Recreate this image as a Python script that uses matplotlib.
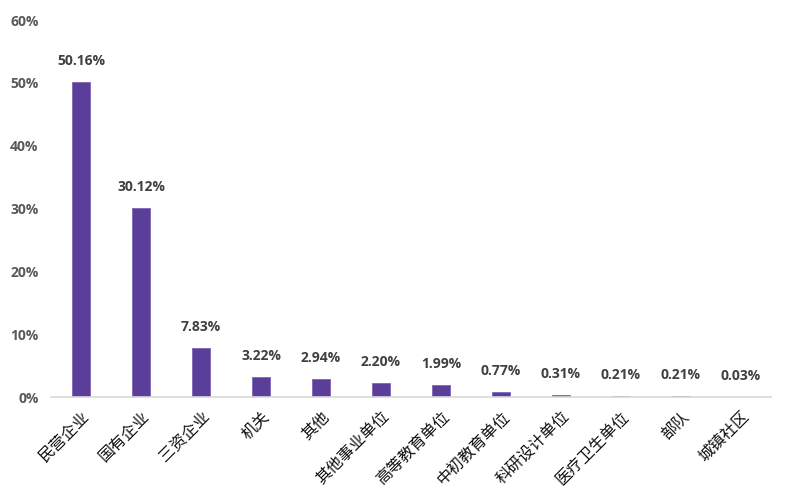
import matplotlib.pyplot as plt
from matplotlib.ticker import FuncFormatter

categories = ["民营企业", "国有企业", "三资企业", "机关", "其他", "其他事业单位",
              "高等教育单位", "中初教育单位", "科研设计单位", "医疗卫生单位", "部队", "城镇社区"]
shares = [50.16, 30.12, 7.83, 3.22, 2.94, 2.20, 1.99, 0.77, 0.31, 0.21, 0.21, 0.03]
yticks = [0, 10, 20, 30, 40, 50, 60]

plt.rcParams['font.family'] = ['Noto Sans CJK SC', 'DejaVu Sans']

fig = plt.figure(figsize=(7.92, 4.91), dpi=100)
ax = fig.add_axes([0.0644, 0.1914, 0.909, 0.7676])

x = list(range(len(categories)))
bars = ax.bar(x, shares, width=0.3, color="#5A3E99", edgecolor="#7B66B5", linewidth=0.6)

for xi, v in zip(x, shares):
    ax.annotate(f"{v:.2f}%", (xi, v), xytext=(0, 10), textcoords="offset points",
                ha="center", va="bottom", fontsize=10, fontweight="bold",
                color="#404040", family=["Open Sans", "DejaVu Sans"])

ax.set_xlim(-0.5, len(categories) - 0.5)
ax.set_ylim(0, 60)
ax.set_yticks(yticks)
ax.yaxis.set_major_formatter(FuncFormatter(lambda v, p: f"{v:.0f}%"))
for lab in ax.get_yticklabels():
    lab.set_fontweight("bold")
    lab.set_family(["Open Sans", "DejaVu Sans"])
ax.tick_params(axis="y", length=0, labelsize=10, labelcolor="#595959", pad=9)

ax.set_xticks(x)
ax.set_xticklabels(categories, rotation=45, ha="right", va="top",
                   rotation_mode="anchor", fontsize=11.5, color="#111111")
ax.tick_params(axis="x", length=0, pad=8)

for s in ["top", "right", "left"]:
    ax.spines[s].set_visible(False)
ax.spines["bottom"].set_color("#D9D9D9")
ax.spines["bottom"].set_linewidth(1.2)

fig.savefig("out.png", dpi=100)
